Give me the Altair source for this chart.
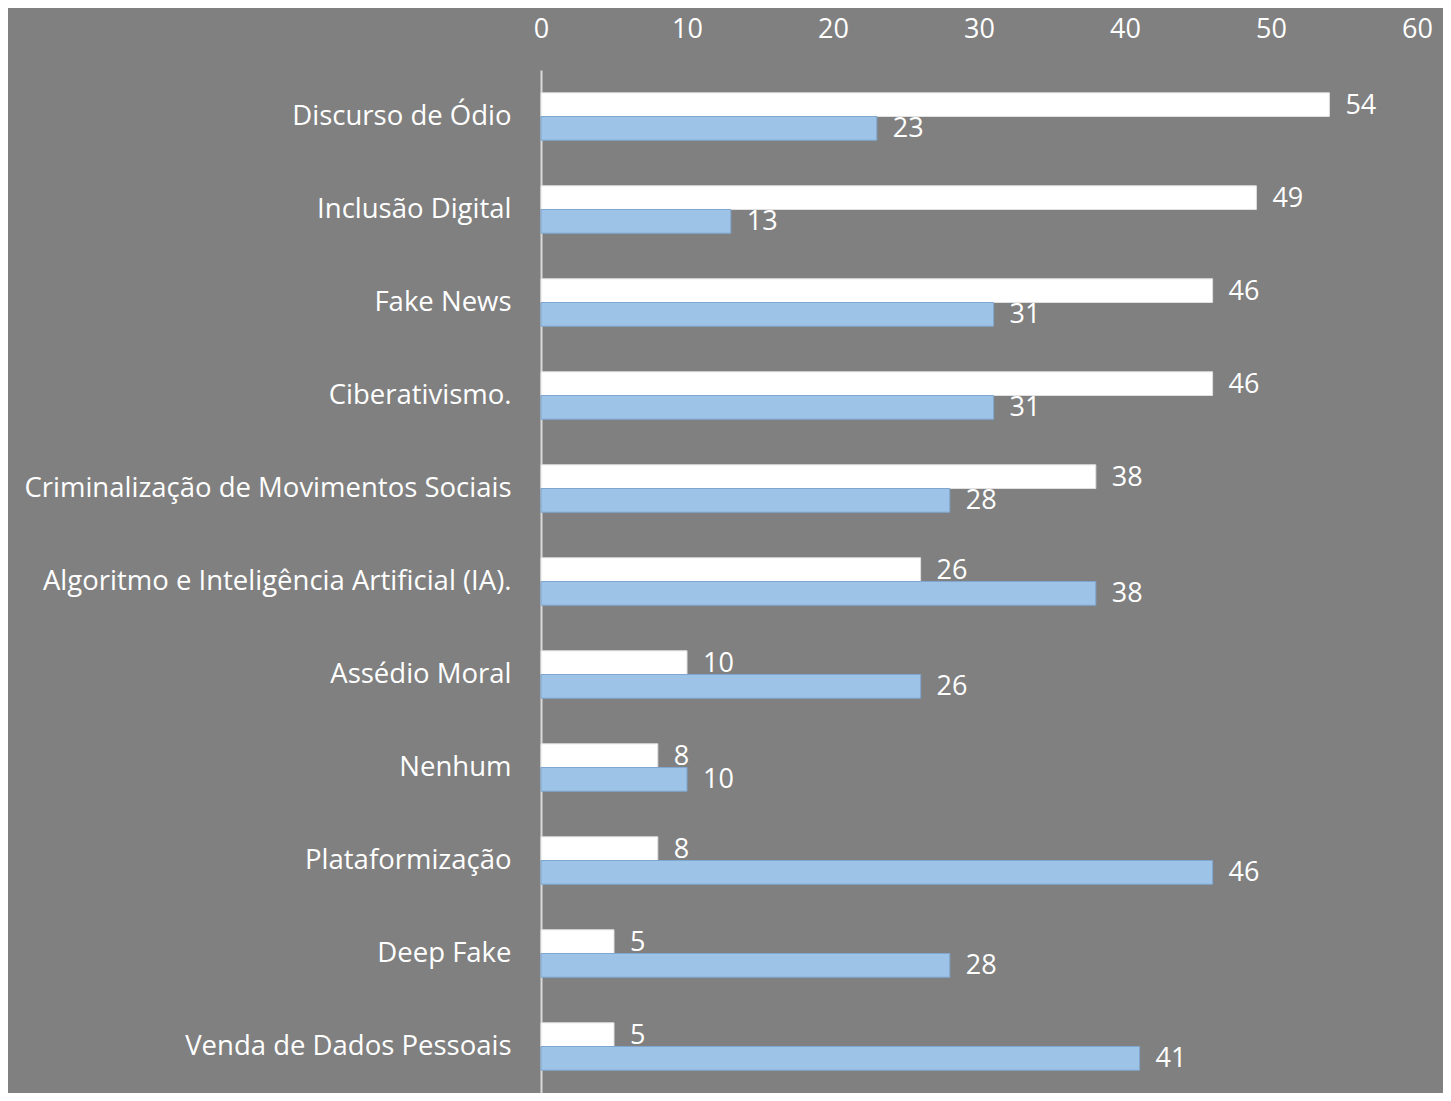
import altair as alt
import pandas as pd

categories = [
    "Discurso de Ódio",
    "Inclusão Digital",
    "Fake News",
    "Ciberativismo.",
    "Criminalização de Movimentos Sociais",
    "Algoritmo e Inteligência Artificial (IA).",
    "Assédio Moral",
    "Nenhum",
    "Plataformização",
    "Deep Fake",
    "Venda de Dados Pessoais",
]
serie1 = [54, 49, 46, 46, 38, 26, 10, 8, 8, 5, 5]
serie2 = [23, 13, 31, 31, 28, 38, 26, 10, 46, 28, 41]
series_names = ["Série 1", "Série 2"]
x_ticks = [0, 10, 20, 30, 40, 50, 60]

rows = []
for c, a, b in zip(categories, serie1, serie2):
    rows.append({"cat": c, "serie": series_names[0], "valor": a})
    rows.append({"cat": c, "serie": series_names[1], "valor": b})
df = pd.DataFrame(rows)

FONT = "Open Sans"
BG = "#808080"

y_enc = alt.Y(
    "cat:N",
    sort=categories,
    title=None,
    scale=alt.Scale(paddingInner=0.49, paddingOuter=0.245),
    axis=alt.Axis(
        domain=True,
        domainColor="#D9D9D9",
        domainWidth=2,
        ticks=False,
        labelFont=FONT,
        labelFontSize=27.5,
        labelColor="#FFFFFF",
        labelPadding=30,
        labelLimit=600,
    ),
)
x_enc = alt.X(
    "valor:Q",
    title=None,
    scale=alt.Scale(domain=[0, 60], nice=False),
    axis=alt.Axis(
        orient="top",
        values=x_ticks,
        domain=False,
        ticks=False,
        grid=False,
        labelFont=FONT,
        labelFontSize=27,
        labelColor="#FFFFFF",
        labelPadding=27,
        labelFlush=False,
    ),
)
yoff = alt.YOffset("serie:N", sort=series_names)
color = alt.Color(
    "serie:N",
    scale=alt.Scale(domain=series_names, range=["#FFFFFF", "#9DC3E6"]),
    legend=None,
)
stroke = alt.Stroke(
    "serie:N",
    scale=alt.Scale(domain=series_names, range=["#E0E0E0", "#7FA6CF"]),
    legend=None,
)

bars = alt.Chart(df).mark_bar(strokeWidth=1).encode(
    x=x_enc, y=y_enc, yOffset=yoff, color=color, stroke=stroke
)
labels = alt.Chart(df).mark_text(
    align="left", baseline="middle", dx=16, dy=1, font=FONT, fontSize=27, color="#FFFFFF"
).encode(
    x="valor:Q", y=alt.Y("cat:N", sort=categories), yOffset=yoff, text="valor:Q"
)

chart = (
    alt.layer(bars, labels)
    .properties(
        width=876,
        height=1023,
        background=BG,
        padding={"left": 533, "top": 62, "right": 26, "bottom": 0},
        autosize=alt.AutoSizeParams(type="none"),
    )
    .configure_view(stroke=None)
)

chart.save("out.html", embed_options={"renderer": "svg", "actions": False})
